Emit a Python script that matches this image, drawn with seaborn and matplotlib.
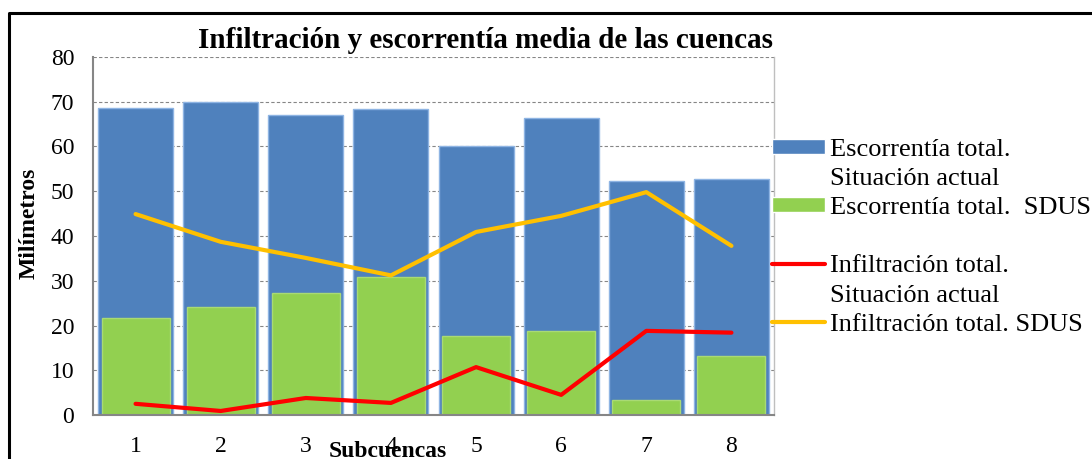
# Infiltración y escorrentía media por subcuenca
import numpy as np
import pandas as pd
import matplotlib.pyplot as plt
import seaborn as sns
from matplotlib.lines import Line2D
from matplotlib.patches import Patch

# Datos (mm)
subcuencas = ['1', '2', '3', '4', '5', '6', '7', '8']
escorrentia_actual = [68.6, 70.0, 67.1, 68.3, 60.2, 66.4, 52.3, 52.7]
escorrentia_sdus = [21.7, 24.1, 27.3, 30.9, 17.7, 18.8, 3.4, 13.2]
infiltracion_actual = [2.5, 0.9, 3.8, 2.7, 10.7, 4.5, 18.8, 18.4]
infiltracion_sdus = [44.9, 38.7, 35.1, 31.2, 40.9, 44.5, 49.8, 37.8]

df = pd.DataFrame({'Subcuenca': subcuencas,
                   'esc_actual': escorrentia_actual,
                   'esc_sdus': escorrentia_sdus,
                   'inf_actual': infiltracion_actual,
                   'inf_sdus': infiltracion_sdus})

azul = '#4F81BD'
verde = '#92D050'
rojo = '#FF0000'
amarillo = '#FFC000'

sns.set_style('white')
plt.rcParams['font.family'] = ['Liberation Serif', 'DejaVu Serif']
plt.rcParams['text.color'] = 'black'
plt.rcParams['axes.labelcolor'] = 'black'
plt.rcParams['xtick.labelcolor'] = 'black'
plt.rcParams['ytick.labelcolor'] = 'black'

fig = plt.figure(figsize=(10.92, 4.59), dpi=100)
ax = fig.add_axes([93 / 1092, 1 - 415 / 459, 681 / 1092, 358 / 459])

# Barras
sns.barplot(data=df, x='Subcuenca', y='esc_actual', color=azul, saturation=1,
            width=0.88, errorbar=None, edgecolor='#8EB4E3', linewidth=1, ax=ax)
sns.barplot(data=df, x='Subcuenca', y='esc_sdus', color=verde, saturation=1,
            width=0.80, errorbar=None, edgecolor='#A9DA74', linewidth=1, ax=ax)

# Lineas
sns.lineplot(data=df, x='Subcuenca', y='inf_actual', color=rojo, linewidth=3, ax=ax)
sns.lineplot(data=df, x='Subcuenca', y='inf_sdus', color=amarillo, linewidth=3, ax=ax)

# Ejes
ax.set_xlim(-0.5, len(subcuencas) - 0.5)
ax.set_ylim(0, 80)
ax.set_yticks(range(0, 81, 10))
ax.set_xticks(range(len(subcuencas)))
ax.set_xticklabels(subcuencas)
ax.set_xticks(np.arange(-0.5, len(subcuencas), 1), minor=True)
ax.tick_params(axis='x', which='major', length=0, pad=15, labelsize=17, labelcolor='black')
ax.tick_params(axis='x', which='minor', length=5, width=1.5, color='#868686', direction='out')
ax.tick_params(axis='y', length=4.5, width=1.5, color='#868686', direction='out', pad=9,
               labelsize=17, labelcolor='black')

ax.set_axisbelow(True)
ax.yaxis.grid(True, color='#868686', linestyle=(0, (3, 2)), linewidth=0.8)
for s in ['left', 'bottom']:
    ax.spines[s].set_color('#868686')
    ax.spines[s].set_linewidth(1.5)
ax.spines['right'].set_color('#BFBFBF')
ax.spines['right'].set_linewidth(1)
ax.spines['top'].set_visible(False)

ax.set_title('Infiltración y escorrentía media de las cuencas', fontsize=21,
             fontweight='bold', x=0.576, y=1.026, pad=0, color='black')
ax.set_xlabel('Subcuencas', fontsize=17, fontweight='bold', color='black')
ax.set_ylabel('Milímetros', fontsize=17, fontweight='bold', color='black')
ax.xaxis.set_label_coords(0.433, -0.073)
ax.yaxis.set_label_coords(-0.079, 0.536)

# Leyenda
vacio = Patch(facecolor='none', edgecolor='none')
handles = [Patch(facecolor=azul), vacio,
           Patch(facecolor=verde), vacio,
           Line2D([], [], color=rojo, linewidth=3), vacio,
           Line2D([], [], color=amarillo, linewidth=3), vacio]
labels = ['Escorrentía total.', 'Situación actual',
          'Escorrentía total.  SDUS', ' ',
          'Infiltración total.', 'Situación actual',
          'Infiltración total. SDUS', ' ']
leg = fig.legend(handles, labels, loc='upper left', bbox_to_anchor=(772 / 1092, 1 - 139 / 459),
                 frameon=False, fontsize=19, handlelength=2.0, handleheight=0.5,
                 handletextpad=0.2, labelspacing=0.27, borderpad=0, borderaxespad=0)
for t in leg.get_texts():
    t.set_color('black')

# Marco
fig.add_artist(Line2D([9 / 1092, 9 / 1092, 1], [0, 1 - 13 / 459, 1 - 13 / 459],
                      transform=fig.transFigure, color='black', linewidth=2.2))

fig.savefig('out.png', dpi=100)
